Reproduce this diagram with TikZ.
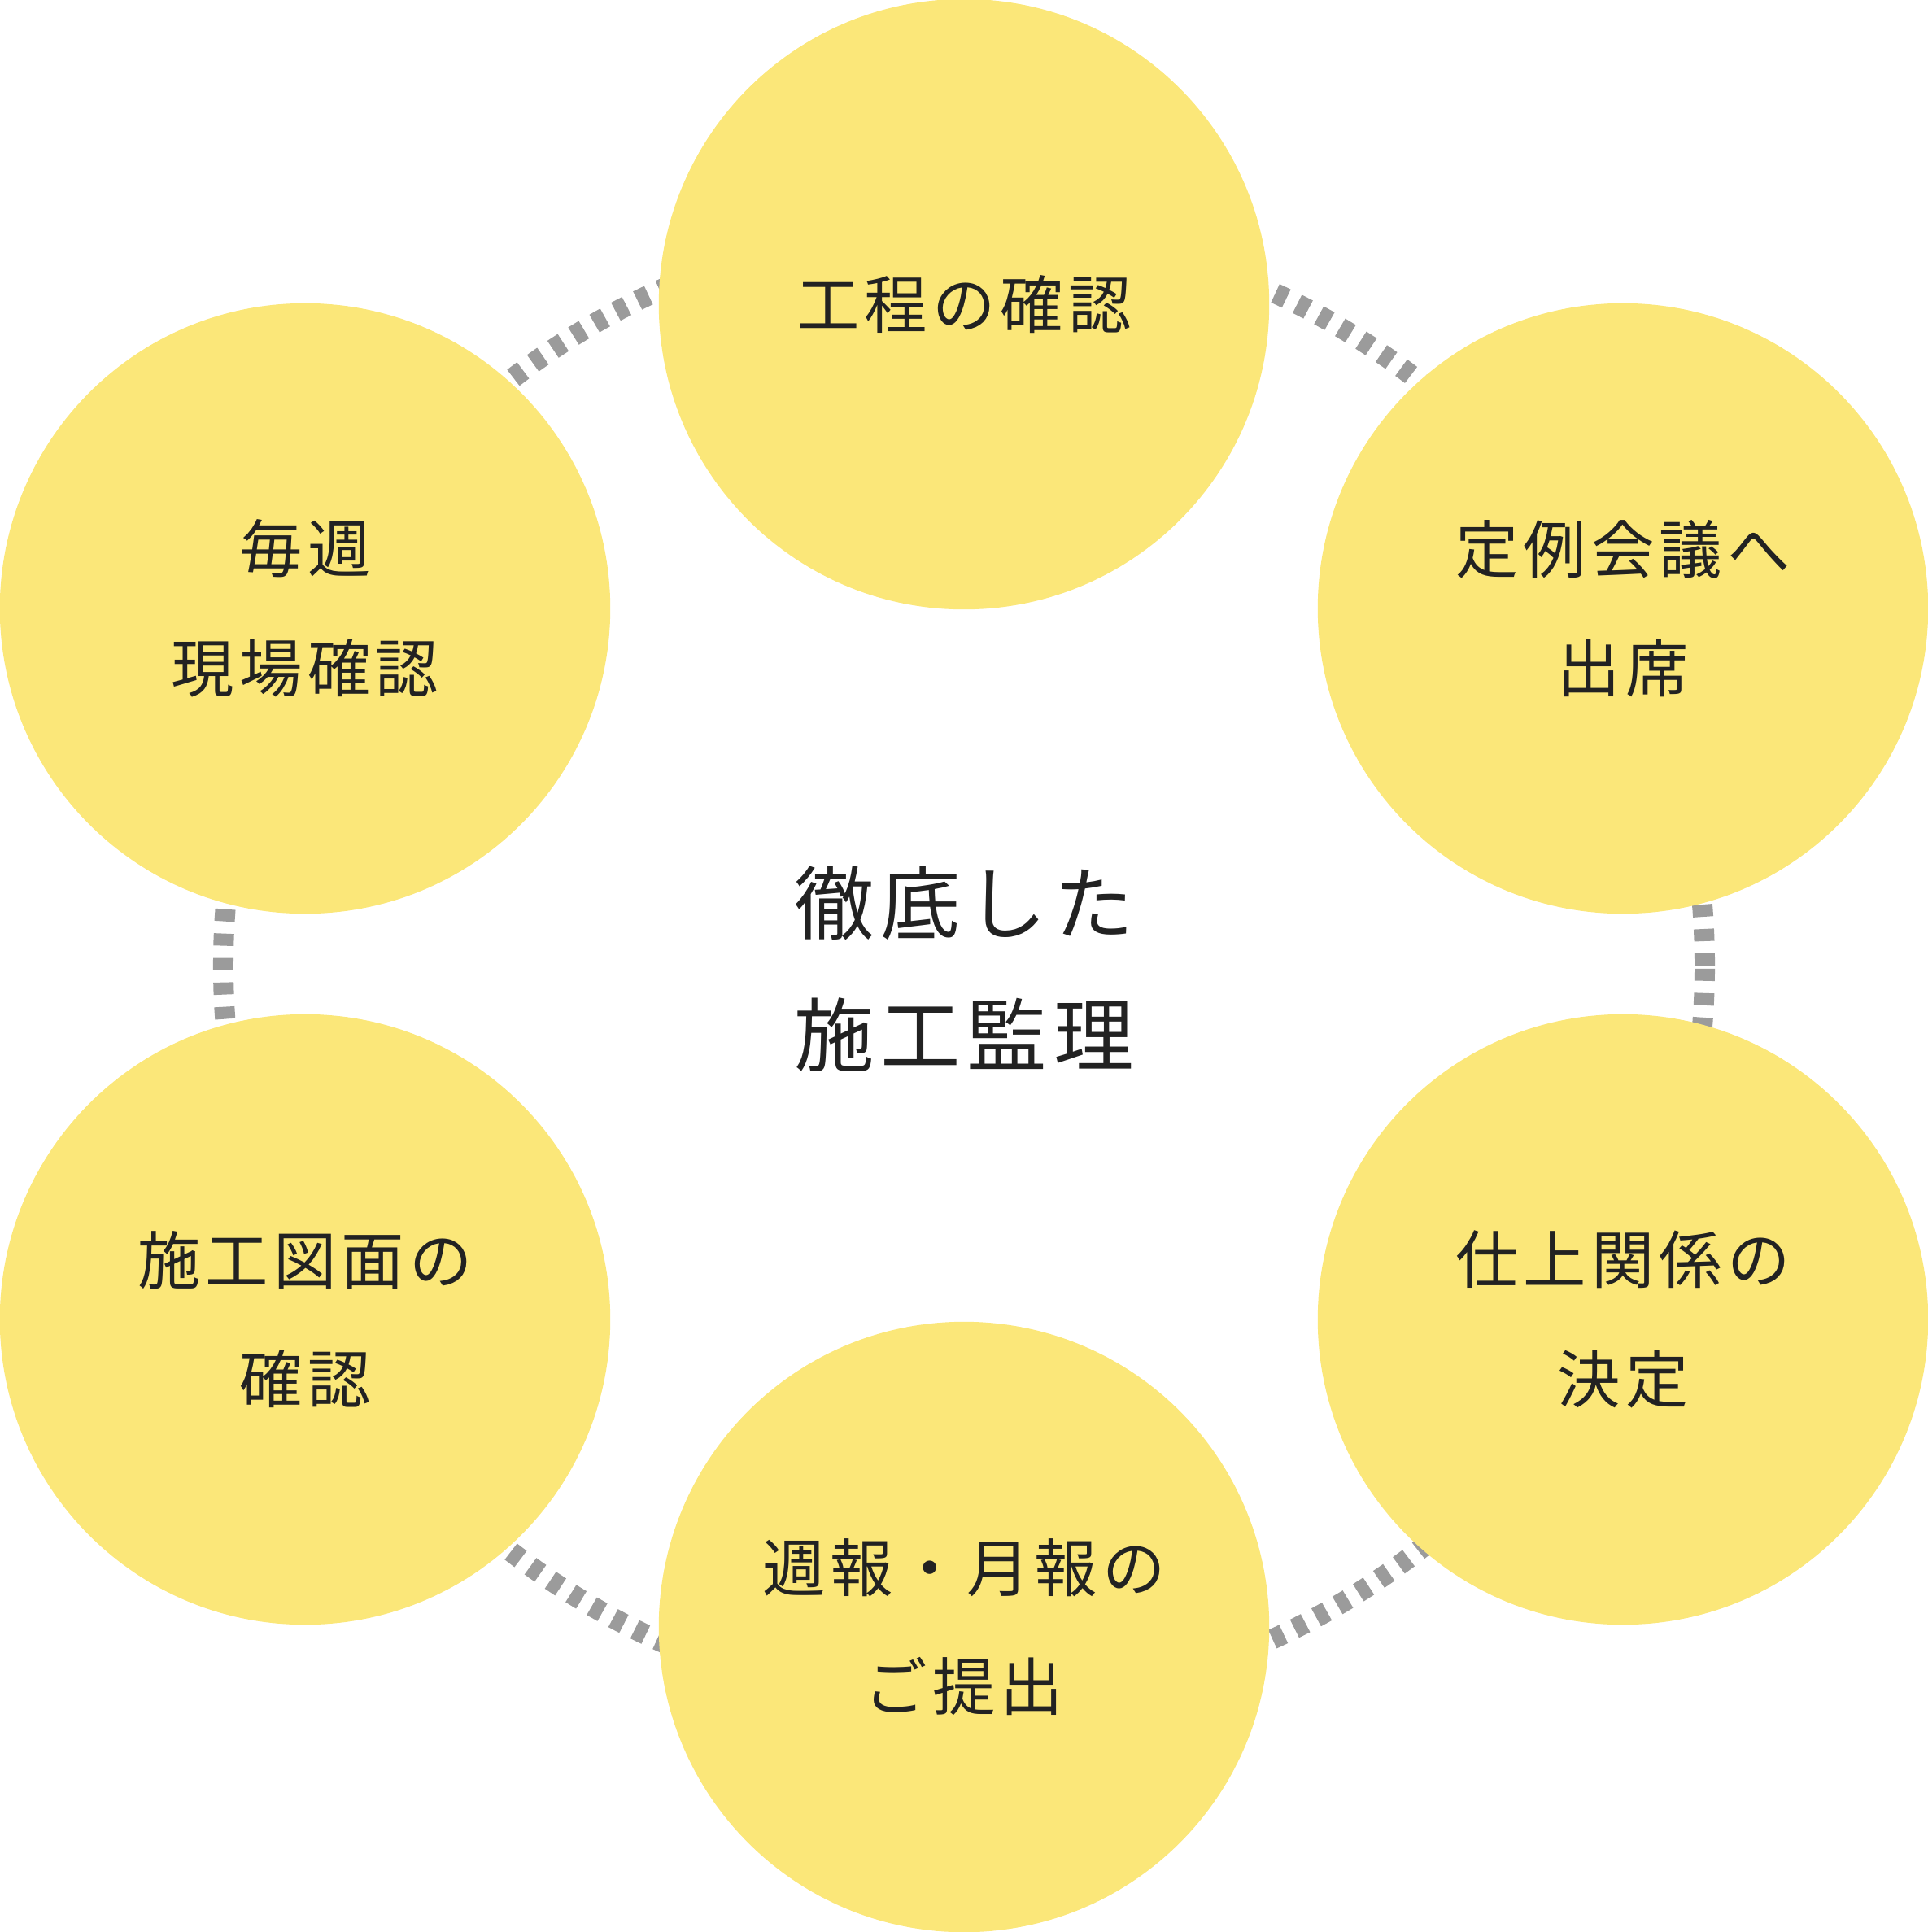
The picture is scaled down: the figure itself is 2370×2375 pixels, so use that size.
\documentclass[tikz,border=0pt]{standalone}
\usepackage{fontspec}
\usepackage{tikz}
\newfontfamily\jpfont[LetterSpace=8]{Noto Sans CJK JP}
\definecolor{kiiro}{HTML}{FBE779}
\definecolor{haiiro}{HTML}{9B9B9B}
\definecolor{sumi}{HTML}{222222}

\begin{document}
\begin{tikzpicture}[x=0.01cm, y=-0.01cm, % 1単位=1px、y軸は下向き
  bubble/.style={circle, fill=kiiro, minimum size=7.5cm, inner sep=0pt, text=sumi, align=center, font=\jpfont\fontsize{22pt}{41.7pt}\selectfont},
  ring/.style={haiiro, line width=0.25cm, dash pattern=on 0.15cm off 0.15cm}] % 点線の輪
  \useasboundingbox (0,0) rectangle (2370,2375); % 画像の大きさ
  \draw[ring] (1185,1187) circle (9.1cm); % 背後の点線

  \node[bubble] (kotei) at (1185,374) {工程の確認}; % 上
  \node[bubble] (teirei) at (1995,748) {定例会議へ\\出席}; % 右上
  \node[bubble] (shiage) at (1995,1622) {仕上関係の\\決定}; % 右下
  \node[bubble] (houkoku) at (1185,2000) {週報・月報の\\ご提出}; % 下
  \node[bubble] (zumen) at (375,1622) {施工図面の\\確認}; % 左下
  \node[bubble] (genba) at (375,748) {毎週\\現場確認}; % 左上

  \node[text=sumi, align=center, font=\jpfont\fontsize{28pt}{46pt}\selectfont] (title) at (1185,1191) {徹底した\\施工監理}; % 中央の見出し
\end{tikzpicture}
\end{document}
